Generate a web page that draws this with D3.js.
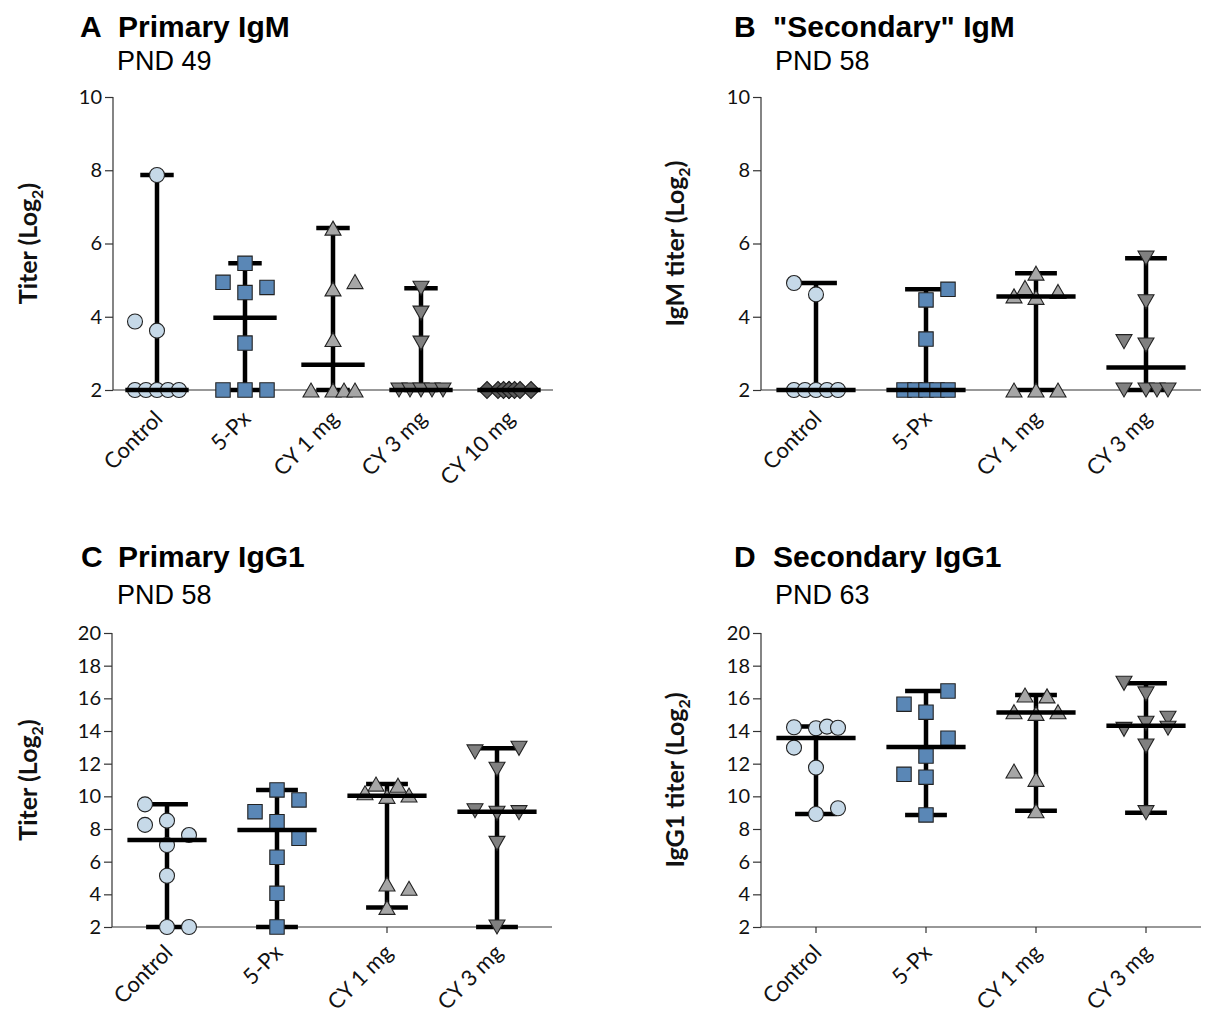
<!DOCTYPE html>
<html><head><meta charset="utf-8">
<script src="https://cdn.jsdelivr.net/npm/d3@7"></script>
<style>body{margin:0;background:#fff}</style>
</head><body>
<svg id="c" width="1206" height="1014"></svg>
<script>
// ---------- data ----------
const catsA = ["Control", "5-Px", "CY 1 mg", "CY 3 mg", "CY 10 mg"];
const catsBCD = ["Control", "5-Px", "CY 1 mg", "CY 3 mg"];
const ticksIgM = [2, 4, 6, 8, 10];
const ticksIgG = [2, 4, 6, 8, 10, 12, 14, 16, 18, 20];

// Panel A: Primary IgM, PND 49
const valuesA = [
  [7.87, 3.87, 3.62, 2, 2, 2, 2, 2],
  [5.46, 4.94, 4.66, 4.80, 3.28, 2, 2, 2],
  [6.42, 4.96, 4.76, 3.38, 2, 2, 2, 2],
  [4.78, 4.10, 3.28, 2, 2, 2, 2, 2],
  [2, 2, 2, 2, 2, 2, 2, 2]
];
const slotsA = [
  [0, -2, 0, -2, -1, 0, 1, 2],
  [0, -2, 0, 2, 0, -2, 0, 2],
  [0, 2, 0, 0, -2, 0, 1, 2],
  [0, 0, 0, -2, -1, 0, 1, 2],
  [-2, -1, -0.5, 0, 0, 0.5, 1, 2]
];
// Panel B: "Secondary" IgM, PND 58
const valuesB = [
  [4.92, 4.61, 2, 2, 2, 2, 2],
  [4.75, 4.46, 3.39, 2, 2, 2, 2, 2],
  [5.19, 4.80, 4.57, 4.53, 4.69, 2, 2, 2],
  [5.60, 4.41, 3.32, 3.23, 2, 2, 2, 2]
];
const slotsB = [
  [-2, 0, -2, -1, 0, 1, 2],
  [2, 0, 0, -2, -1, 0, 1, 2],
  [0, -1, -2, 0, 2, -2, 0, 2],
  [0, 0, -2, 0, -2, 0, 1, 2]
];
// Panel C: Primary IgG1, PND 58
const valuesC = [
  [9.51, 8.25, 8.51, 7.63, 7.02, 5.14, 2, 2],
  [10.39, 9.78, 9.06, 8.45, 7.43, 6.27, 4.06, 2],
  [10.75, 10.68, 10.22, 10.08, 10.0, 4.63, 4.37, 3.2],
  [12.94, 12.72, 11.66, 9.12, 8.96, 9.0, 7.12, 2]
];
const slotsC = [
  [-2, -2, 0, 2, 0, 0, 0, 2],
  [0, 2, -2, 0, 2, 0, 0, 0],
  [-1, 1, -2, 2, 0, 0, 2, 0],
  [2, -2, 0, -2, 0, 2, 0, 0]
];
// Panel D: Secondary IgG1, PND 63
const valuesD = [
  [14.23, 14.17, 14.27, 14.2, 12.98, 11.76, 9.27, 8.92],
  [16.45, 15.64, 15.15, 13.56, 12.47, 11.35, 11.17, 8.86],
  [16.2, 16.15, 15.18, 15.08, 15.18, 11.55, 11.04, 9.12],
  [16.92, 16.27, 14.78, 14.1, 14.47, 14.17, 13.08, 9.0]
];
const slotsD = [
  [-2, 0, 1, 2, -2, 0, 2, 0],
  [2, -2, 0, 2, 0, -2, 0, 0],
  [-1, 1, -2, 0, 2, -2, 0, 0],
  [-2, 0, 2, -2, 0, 2, 0, 0]
];

// ---------- styles ----------
const fills = ["#c6d9e8", "#5a87b6", "#a6a6a6", "#808080", "#5a5a5a"];
const shapes = ["circle", "square", "up", "down", "diamond"];
const tickFont = "Lato, 'Open Sans', sans-serif";
const titleFont = "'Liberation Sans', Arial, sans-serif";

const svg = d3.select("#c");

function markerPath(shape) {
  const p = d3.path();
  if (shape === "circle") { p.arc(0, 0, 7.5, 0, 2 * Math.PI); }
  else if (shape === "square") { p.rect(-7.2, -7.2, 14.4, 14.4); }
  else if (shape === "up") { p.moveTo(0, -7); p.lineTo(8, 7); p.lineTo(-8, 7); p.closePath(); }
  else if (shape === "down") { p.moveTo(-8, -7); p.lineTo(8, -7); p.lineTo(0, 7); p.closePath(); }
  else { p.moveTo(0, -8.5); p.lineTo(8.5, 0); p.lineTo(0, 8.5); p.lineTo(-8.5, 0); p.closePath(); }
  return p.toString();
}

function drawPanel(cfg) {
  const g = svg.append("g");
  const x = d3.scaleBand().domain(cfg.cats).range(cfg.xRange);
  const y = d3.scaleLinear().domain([cfg.ticks[0], cfg.ticks[cfg.ticks.length - 1]]).range(cfg.yRange);
  const bw = x.bandwidth();
  const slotW = 11;

  // y axis
  const yAxis = d3.axisLeft(y).tickValues(cfg.ticks).tickSize(8).tickPadding(3).tickFormat(d3.format("d"));
  const ya = g.append("g").attr("transform", `translate(${cfg.xRange[0]},0)`).call(yAxis);
  ya.selectAll("path, line").attr("stroke", "#333").attr("stroke-width", 1.2);
  ya.select(".domain").attr("d", `M0,${cfg.yRange[0]}V${cfg.yRange[1]}`);
  ya.selectAll("text").attr("font-family", tickFont).attr("font-size", 20).attr("fill", "#111");

  // x axis
  const xAxis = d3.axisBottom(x).tickSize(6).tickSizeOuter(0).tickFormat("");
  const xa = g.append("g").attr("transform", `translate(0,${cfg.yRange[0]})`).call(xAxis);
  xa.selectAll("path, line").attr("stroke", "#333").attr("stroke-width", 1.2);
  xa.select(".domain").attr("d", `M${cfg.xRange[0]},0H${cfg.xRange[1]}`);
  // rotated category labels
  g.selectAll(".xl").data(cfg.cats).join("text")
    .attr("transform", d => `translate(${x(d) + bw / 2 + cfg.lblDx},${cfg.yRange[0] + cfg.lblDy}) rotate(-45)`)
    .attr("text-anchor", "end")
    .attr("font-family", tickFont).attr("font-size", 22).attr("fill", "#111")
    .text(d => d);

  // groups
  cfg.cats.forEach((c, i) => {
    const vals = cfg.values[i];
    const cx = x(c) + bw / 2;
    const [lo, hi] = d3.extent(vals);
    const med = d3.median(vals);
    const capW = bw * 0.19, medW = bw * 0.36;
    g.append("line").attr("x1", cx).attr("x2", cx).attr("y1", y(lo)).attr("y2", y(hi))
      .attr("stroke", "#000").attr("stroke-width", 4.5);
    [lo, hi].forEach(v => g.append("line").attr("x1", cx - capW).attr("x2", cx + capW)
      .attr("y1", y(v)).attr("y2", y(v)).attr("stroke", "#000").attr("stroke-width", 4.5));
    const shape = cfg.shapes[i];
    g.selectAll(null).data(vals.map((v, k) => ({ v, s: cfg.slots[i][k] }))).join("path")
      .attr("d", markerPath(shape))
      .attr("transform", d => `translate(${cx + d.s * slotW},${y(d.v)})`)
      .attr("fill", cfg.fills[i]).attr("stroke", "#222").attr("stroke-width", 1.1);
    g.append("line").attr("x1", cx - medW).attr("x2", cx + medW).attr("y1", y(med)).attr("y2", y(med))
      .attr("stroke", "#000").attr("stroke-width", 4.5);
  });

  // titles
  g.append("text").attr("x", cfg.letterX).attr("y", cfg.titleY)
    .attr("font-family", titleFont).attr("font-weight", "bold").attr("font-size", 30).text(cfg.letter);
  g.append("text").attr("x", cfg.titleX).attr("y", cfg.titleY)
    .attr("font-family", titleFont).attr("font-weight", "bold").attr("font-size", 30).text(cfg.title);
  g.append("text").attr("x", cfg.subX).attr("y", cfg.subY)
    .attr("font-family", titleFont).attr("font-size", 27).text(cfg.sub);

  // y label
  const yl = g.append("text")
    .attr("transform", `translate(${cfg.ylabX},${(cfg.yRange[0] + cfg.yRange[1]) / 2}) rotate(-90)`)
    .attr("text-anchor", "middle").attr("font-family", tickFont).attr("font-weight", "bold")
    .attr("font-size", 25).attr("fill", "#111");
  yl.append("tspan").text(cfg.ylab + " (Log");
  yl.append("tspan").attr("font-size", 16).attr("dy", 6).text("2");
  yl.append("tspan").attr("dy", -6).text(")");
}

drawPanel({ cats: catsA, values: valuesA, slots: slotsA, ticks: ticksIgM, shapes: shapes, fills: fills,
  xRange: [113, 553], yRange: [390, 97], lblDx: 7, lblDy: 30,
  letter: "A", title: "Primary IgM", sub: "PND 49", letterX: 80, titleX: 118, titleY: 37, subX: 117, subY: 70,
  ylab: "Titer", ylabX: 37 });
drawPanel({ cats: catsBCD, values: valuesB, slots: slotsB, ticks: ticksIgM, shapes: shapes, fills: fills,
  xRange: [761, 1201], yRange: [390, 97], lblDx: 7, lblDy: 30,
  letter: "B", title: "\"Secondary\" IgM", sub: "PND 58", letterX: 734, titleX: 773, titleY: 37, subX: 775, subY: 70,
  ylab: "IgM titer", ylabX: 684 });
drawPanel({ cats: catsBCD, values: valuesC, slots: slotsC, ticks: ticksIgG, shapes: shapes, fills: fills,
  xRange: [112, 552], yRange: [927, 633], lblDx: 7, lblDy: 27,
  letter: "C", title: "Primary IgG1", sub: "PND 58", letterX: 81, titleX: 118, titleY: 567, subX: 117, subY: 604,
  ylab: "Titer", ylabX: 37 });
drawPanel({ cats: catsBCD, values: valuesD, slots: slotsD, ticks: ticksIgG, shapes: shapes, fills: fills,
  xRange: [761, 1201], yRange: [927, 633], lblDx: 7, lblDy: 27,
  letter: "D", title: "Secondary IgG1", sub: "PND 63", letterX: 734, titleX: 773, titleY: 567, subX: 775, subY: 604,
  ylab: "IgG1 titer", ylabX: 684 });
</script>
</body></html>
